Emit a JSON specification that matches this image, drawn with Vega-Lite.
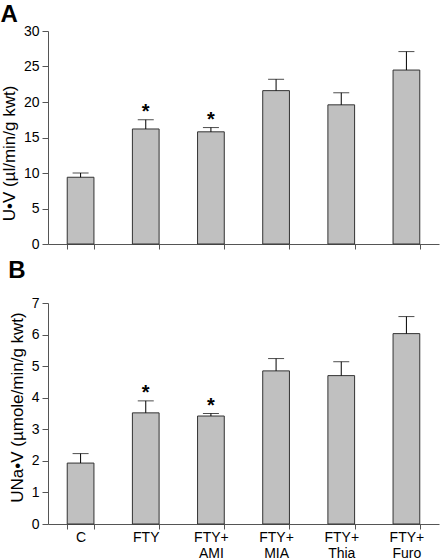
{
  "$schema": "https://vega.github.io/schema/vega-lite/v6.json",
  "padding": {"left": 0, "top": 3, "right": 2, "bottom": 0},
  "spacing": 8,
  "config": {
    "font": "Liberation Sans",
    "view": {"stroke": null},
    "axis": {
      "grid": false,
      "domainColor": "#555555",
      "tickColor": "#555555",
      "labelColor": "#000000",
      "titleColor": "#000000",
      "labelFont": "Liberation Sans",
      "titleFont": "Liberation Sans",
      "labelFontSize": 14,
      "titleFontSize": 17,
      "titleFontWeight": "normal",
      "tickSize": 6,
      "labelPadding": 3
    },
    "title": {"font": "Liberation Sans", "fontSize": 24, "fontWeight": "bold", "anchor": "start", "color": "#000000"}
  },
  "vconcat": [
    {
      "title": {"text": "A", "offset": -3},
      "width": 391,
      "height": 213,
      "data": {"values": [
        {"group": "C", "value": 9.4, "upper": 10.0, "sig": ""},
        {"group": "FTY", "value": 16.2, "upper": 17.5, "sig": "*"},
        {"group": "FTY+ AMI", "value": 15.8, "upper": 16.4, "sig": "*"},
        {"group": "FTY+ MIA", "value": 21.6, "upper": 23.2, "sig": ""},
        {"group": "FTY+ Thia", "value": 19.6, "upper": 21.3, "sig": ""},
        {"group": "FTY+ Furo", "value": 24.5, "upper": 27.1, "sig": ""}
      ]},
      "encoding": {
        "x": {"field": "group", "type": "nominal", "sort": null,
          "scale": {"paddingInner": 0.59, "paddingOuter": 0.295},
          "axis": {"title": null, "labels": false, "tickBand": "extent", "tickSize": 5}}
      },
      "layer": [
        {"mark": {"type": "bar", "fill": "#c0c0c0", "stroke": "#333333", "strokeWidth": 1},
         "encoding": {"y": {"field": "value", "type": "quantitative",
           "scale": {"domain": [0, 30], "nice": false},
           "axis": {"values": [0, 5, 10, 15, 20, 25, 30], "title": "U•V (µl/min/g kwt)", "titleY": 122, "titlePadding": 5}}}},
        {"mark": {"type": "rule", "color": "#000000", "strokeWidth": 1},
         "encoding": {"y": {"field": "upper", "type": "quantitative",
           "axis": {"values": [0, 5, 10, 15, 20, 25, 30], "title": "U•V (µl/min/g kwt)", "titleY": 122, "titlePadding": 5}}, "y2": {"field": "value"}}},
        {"mark": {"type": "tick", "color": "#000000", "thickness": 1, "size": 16},
         "encoding": {"y": {"field": "upper", "type": "quantitative",
           "axis": {"values": [0, 5, 10, 15, 20, 25, 30], "title": "U•V (µl/min/g kwt)", "titleY": 122, "titlePadding": 5}}}},
        {"mark": {"type": "text", "fontSize": 20, "fontWeight": "bold", "dy": -8, "baseline": "middle"},
         "encoding": {"y": {"field": "upper", "type": "quantitative",
           "axis": {"values": [0, 5, 10, 15, 20, 25, 30], "title": "U•V (µl/min/g kwt)", "titleY": 122, "titlePadding": 5}}, "text": {"field": "sig"}}}
      ]
    },
    {
      "title": {"text": "B", "offset": 13},
      "width": 391,
      "height": 221,
      "data": {"values": [
        {"group": "C", "value": 1.93, "upper": 2.23, "sig": ""},
        {"group": "FTY", "value": 3.52, "upper": 3.9, "sig": "*"},
        {"group": "FTY+ AMI", "value": 3.42, "upper": 3.5, "sig": "*"},
        {"group": "FTY+ MIA", "value": 4.85, "upper": 5.24, "sig": ""},
        {"group": "FTY+ Thia", "value": 4.7, "upper": 5.14, "sig": ""},
        {"group": "FTY+ Furo", "value": 6.03, "upper": 6.57, "sig": ""}
      ]},
      "encoding": {
        "x": {"field": "group", "type": "nominal", "sort": null,
          "scale": {"paddingInner": 0.59, "paddingOuter": 0.295},
          "axis": {"title": null, "labelAngle": 0, "tickBand": "extent", "tickSize": 5,
            "labelExpr": "split(datum.label, ' ')", "labelLineHeight": 16, "labelPadding": 1}}
      },
      "layer": [
        {"mark": {"type": "bar", "fill": "#c0c0c0", "stroke": "#333333", "strokeWidth": 1},
         "encoding": {"y": {"field": "value", "type": "quantitative",
           "scale": {"domain": [0, 7], "nice": false},
           "axis": {"values": [0, 1, 2, 3, 4, 5, 6, 7], "title": "UNa•V (µmole/min/g kwt)", "titleY": 104, "titlePadding": 5}}}},
        {"mark": {"type": "rule", "color": "#000000", "strokeWidth": 1},
         "encoding": {"y": {"field": "upper", "type": "quantitative",
           "axis": {"values": [0, 1, 2, 3, 4, 5, 6, 7], "title": "UNa•V (µmole/min/g kwt)", "titleY": 104, "titlePadding": 5}}, "y2": {"field": "value"}}},
        {"mark": {"type": "tick", "color": "#000000", "thickness": 1, "size": 16},
         "encoding": {"y": {"field": "upper", "type": "quantitative",
           "axis": {"values": [0, 1, 2, 3, 4, 5, 6, 7], "title": "UNa•V (µmole/min/g kwt)", "titleY": 104, "titlePadding": 5}}}},
        {"mark": {"type": "text", "fontSize": 20, "fontWeight": "bold", "dy": -8, "baseline": "middle"},
         "encoding": {"y": {"field": "upper", "type": "quantitative",
           "axis": {"values": [0, 1, 2, 3, 4, 5, 6, 7], "title": "UNa•V (µmole/min/g kwt)", "titleY": 104, "titlePadding": 5}}, "text": {"field": "sig"}}}
      ]
    }
  ]
}
